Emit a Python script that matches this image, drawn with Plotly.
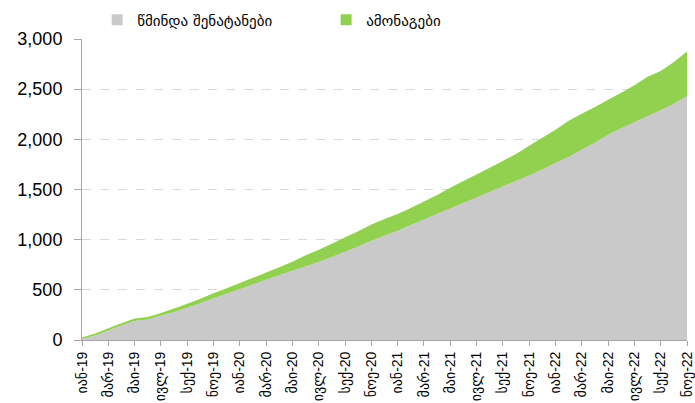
import plotly.graph_objects as go

month_names = ["იან", "თებ", "მარ", "აპრ", "მაი", "ივნ", "ივლ", "აგვ", "სექ", "ოქტ", "ნოე", "დეკ"]
years = ["19", "20", "21", "22"]
categories = [f"{m}-{y}" for y in years for m in month_names][:47]  # იან-19 .. ნოე-22

net_contributions = [10, 45, 95, 145, 190, 205, 242, 280, 322, 366, 415, 460,
                     507, 553, 600, 645, 690, 733, 778, 828, 880, 932, 990, 1040,
                     1090, 1145, 1200, 1255, 1310, 1365, 1420, 1475, 1530, 1585, 1640, 1700,
                     1765, 1825, 1895, 1965, 2045, 2110, 2170, 2230, 2290, 2355, 2430]
returns = [15, 20, 22, 23, 25, 25, 28, 35, 40, 46, 50, 55,
           60, 67, 72, 80, 90, 112, 122, 132, 145, 153, 162, 165,
           165, 170, 180, 190, 208, 220, 230, 243, 255, 270, 295, 315,
           330, 360, 360, 357, 350, 355, 370, 395, 390, 415, 445]

tick_labels = categories[::2]
series_names = ["წმინდა შენატანები", "ამონაგები"]
colors = ["#C9C9C9", "#92D050"]

fig = go.Figure()
fig.add_trace(go.Scatter(x=categories, y=net_contributions, stackgroup="s", mode="none",
                         fillcolor=colors[0], name=series_names[0], showlegend=False))
fig.add_trace(go.Scatter(x=categories, y=returns, stackgroup="s", mode="none",
                         fillcolor=colors[1], name=series_names[1], showlegend=False))
for n, c in zip(series_names, colors):
    fig.add_trace(go.Scatter(x=[None], y=[None], mode="markers", name=n,
                             marker=dict(symbol="square", size=11, color=c)))

fig.update_layout(
    width=695, height=403,
    margin=dict(l=82, r=8, t=39, b=63, autoexpand=False),
    plot_bgcolor="white", paper_bgcolor="white",
    font=dict(family="Liberation Sans, DejaVu Sans", color="#000000"),
    legend=dict(orientation="h", traceorder="normal", x=0.025, xanchor="left",
                y=1.063, yanchor="middle",
                font=dict(size=15, family="DejaVu Sans"), entrywidth=184,
                itemwidth=30, bgcolor="rgba(0,0,0,0)"),
)
fig.update_xaxes(type="category", range=[0, 46], tickmode="array", tickvals=tick_labels,
                 ticktext=tick_labels, tickangle=-90, ticks="outside", ticklen=5,
                 tickcolor="#A6A6A6", showline=True, linecolor="#A6A6A6", linewidth=1,
                 showgrid=False, automargin=False,
                 tickfont=dict(size=14, family="Liberation Sans, DejaVu Sans"))
fig.update_yaxes(range=[0, 3000], dtick=500, tickformat=",", ticks="outside", ticklen=7,
                 tickcolor="#A6A6A6", showline=True, linecolor="#A6A6A6", linewidth=1,
                 gridcolor="#D9D9D9", griddash="dash", zeroline=False, automargin=False,
                 tickfont=dict(size=18, family="Liberation Sans"), ticklabelstandoff=8)

fig.write_html("out.html", config={"displayModeBar": False},
               post_script="document.body.style.margin='0px';")
